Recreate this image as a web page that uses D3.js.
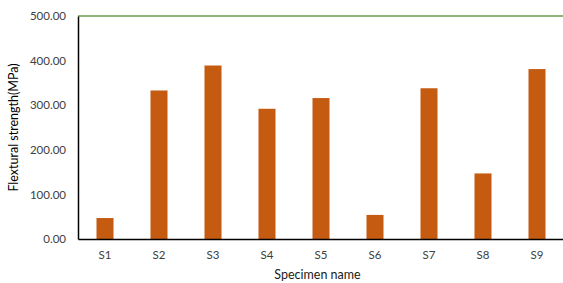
<!DOCTYPE html>
<html>
<head>
<meta charset="utf-8">
<script src="https://cdn.jsdelivr.net/npm/d3@7"></script>
<style>
  body { margin: 0; background: #fff; }
  text { font-family: Lato, "Open Sans", sans-serif; fill: #404040; }
</style>
</head>
<body>
<svg id="chart" width="563" height="283"></svg>
<script>
let specimens = ["S1", "S2", "S3", "S4", "S5", "S6", "S7", "S8", "S9"];
let strength = [47, 333, 389, 292, 316, 54, 338, 147, 381];
let yTicks = [0, 100, 200, 300, 400, 500];

let data = specimens.map(function(s, i) { return {name: s, value: strength[i]}; });

let margin = {top: 16, right: 0, bottom: 44, left: 78};
let width = 563 - margin.left - margin.right;
let height = 283 - margin.top - margin.bottom;

let svg = d3.select("#chart")
    .append("g")
    .attr("transform", `translate(${margin.left}, ${margin.top})`);

let x = d3.scaleBand()
    .domain(specimens)
    .range([0, width + 1])
    .paddingInner(0.685)
    .paddingOuter(0.3425);

let y = d3.scaleLinear()
    .domain([0, 500])
    .range([height, 0]);

// bars
svg.selectAll("rect.bar")
    .data(data)
    .join("rect")
    .attr("class", "bar")
    .attr("x", function(d) { return x(d.name); })
    .attr("width", x.bandwidth())
    .attr("y", function(d) { return y(d.value); })
    .attr("height", function(d) { return height - y(d.value); })
    .style("fill", "#c55a11");

// green top line
svg.append("line")
    .attr("x1", 0)
    .attr("x2", width)
    .attr("y1", y(500))
    .attr("y2", y(500))
    .style("stroke", "#6b9a47")
    .style("stroke-width", "1.5px");

// y axis
let yAxis = svg.append("g")
    .call(d3.axisLeft(y).tickValues(yTicks).tickFormat(d3.format(".2f")).tickSize(0).tickPadding(12));
yAxis.select(".domain").style("stroke", "#000").style("stroke-width", "1.5px");
yAxis.selectAll("text").style("font-size", "11.5px").attr("fill", "#404040");

// x axis
let xAxis = svg.append("g")
    .attr("transform", `translate(0, ${height})`)
    .call(d3.axisBottom(x).tickSize(0).tickPadding(12));
xAxis.select(".domain").style("stroke", "#000").style("stroke-width", "1.5px");
xAxis.selectAll("text").style("font-size", "11.5px").attr("fill", "#404040");

svg.append("text")
    .attr("text-anchor", "middle")
    .attr("x", width / 2 - 3)
    .attr("y", height + 40)
    .style("font-size", "12.5px")
    .style("fill", "#1a1a1a")
    .text("Specimen name");

svg.append("text")
    .attr("text-anchor", "middle")
    .attr("transform", `translate(${-60}, ${height / 2}) rotate(-90)`)
    .style("font-size", "12.5px")
    .style("fill", "#000")
    .text("Flextural strength(MPa)");
</script>
</body>
</html>
